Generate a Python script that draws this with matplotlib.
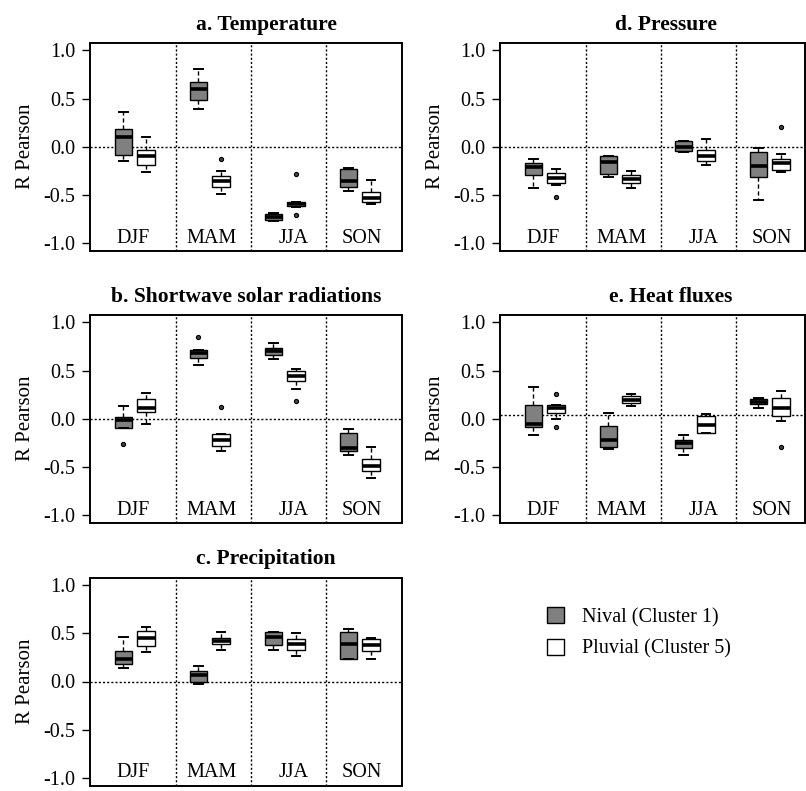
"""Seasonal correlation boxplots for the nival and pluvial clusters.

Five panels (temperature, shortwave, precipitation, pressure, heat fluxes),
each showing the spread of Pearson R per season for both clusters, drawn
from five-number summaries with ``Axes.bxp``.
"""

import matplotlib

matplotlib.use("Agg")
import matplotlib.pyplot as plt
from matplotlib.patches import Patch

SEASONS = ["DJF", "MAM", "JJA", "SON"]
SERIES = ["Nival (Cluster 1)", "Pluvial (Cluster 5)"]

# Per-season summaries: [whisker low, Q1, median, Q3, whisker high]
TEMP_NIVAL = [[-0.15, -0.09, 0.10, 0.18, 0.36], [0.39, 0.49, 0.60, 0.67, 0.81],
              [-0.77, -0.76, -0.73, -0.70, -0.69], [-0.455, -0.42, -0.36, -0.235, -0.225]]
TEMP_PLUVIAL = [[-0.26, -0.19, -0.10, -0.03, 0.10], [-0.49, -0.415, -0.36, -0.30, -0.25],
                [-0.63, -0.62, -0.595, -0.575, -0.57], [-0.60, -0.57, -0.535, -0.47, -0.345]]
TEMP_NIVAL_OUT = [[], [], [], []]
TEMP_PLUVIAL_OUT = [[], [-0.13], [-0.28, -0.71], []]

SW_NIVAL = [[-0.095, -0.095, -0.01, 0.02, 0.13], [0.56, 0.63, 0.68, 0.71, 0.71],
            [0.625, 0.66, 0.70, 0.73, 0.79], [-0.38, -0.34, -0.30, -0.15, -0.11]]
SW_PLUVIAL = [[-0.055, 0.065, 0.11, 0.20, 0.27], [-0.335, -0.28, -0.22, -0.16, -0.155],
              [0.31, 0.39, 0.44, 0.50, 0.52], [-0.62, -0.54, -0.49, -0.42, -0.29]]
SW_NIVAL_OUT = [[-0.26], [0.845], [], []]
SW_PLUVIAL_OUT = [[], [0.12], [0.18], []]

PRECIP_NIVAL = [[0.145, 0.185, 0.23, 0.315, 0.465], [-0.03, 0.0, 0.07, 0.105, 0.165],
                [0.33, 0.375, 0.46, 0.51, 0.51], [0.23, 0.23, 0.385, 0.515, 0.55]]
PRECIP_PLUVIAL = [[0.31, 0.37, 0.455, 0.52, 0.565], [0.33, 0.39, 0.425, 0.455, 0.515],
                  [0.27, 0.33, 0.385, 0.445, 0.50], [0.23, 0.315, 0.38, 0.44, 0.455]]
PRECIP_NIVAL_OUT = [[], [], [], []]
PRECIP_PLUVIAL_OUT = [[], [], [], []]

PRES_NIVAL = [[-0.425, -0.29, -0.21, -0.17, -0.13], [-0.31, -0.28, -0.155, -0.097, -0.097],
              [-0.05, -0.045, 0.0, 0.055, 0.06], [-0.55, -0.31, -0.20, -0.06, -0.01]]
PRES_PLUVIAL = [[-0.40, -0.375, -0.32, -0.275, -0.23], [-0.43, -0.375, -0.335, -0.29, -0.25],
                [-0.19, -0.15, -0.10, -0.03, 0.08], [-0.26, -0.24, -0.17, -0.13, -0.08]]
PRES_NIVAL_OUT = [[], [], [], []]
PRES_PLUVIAL_OUT = [[-0.52], [], [], [0.20]]

HEAT_NIVAL = [[-0.165, -0.09, -0.05, 0.14, 0.325], [-0.31, -0.29, -0.22, -0.076, 0.06],
              [-0.38, -0.30, -0.255, -0.22, -0.17], [0.115, 0.15, 0.175, 0.20, 0.22]]
HEAT_PLUVIAL = [[-0.005, 0.055, 0.115, 0.14, 0.14], [0.135, 0.16, 0.19, 0.235, 0.26],
                [-0.15, -0.145, -0.065, 0.03, 0.05], [-0.02, 0.03, 0.11, 0.22, 0.29]]
HEAT_NIVAL_OUT = [[], [], [], []]
HEAT_PLUVIAL_OUT = [[0.26, -0.085], [], [], [-0.29]]

NIVAL_COLOR = "#808080"
PLUVIAL_COLOR = "white"

# Layout in pixels of an 806x791 canvas: (left, top, width, height)
W, H = 806, 791
PANELS = [
    ("a. Temperature", 0.567, 0.0, (90, 42.7, 312, 208), TEMP_NIVAL, TEMP_PLUVIAL, TEMP_NIVAL_OUT, TEMP_PLUVIAL_OUT),
    ("b. Shortwave solar radiations", 0.50, 0.0, (90, 314.7, 312, 208), SW_NIVAL, SW_PLUVIAL, SW_NIVAL_OUT, SW_PLUVIAL_OUT),
    ("c. Precipitation", 0.564, 0.0, (90, 577.5, 312, 208), PRECIP_NIVAL, PRECIP_PLUVIAL, PRECIP_NIVAL_OUT, PRECIP_PLUVIAL_OUT),
    ("d. Pressure", 0.544, 0.0, (500, 42.7, 305, 208), PRES_NIVAL, PRES_PLUVIAL, PRES_NIVAL_OUT, PRES_PLUVIAL_OUT),
    ("e. Heat fluxes", 0.561, 0.035, (500, 314.7, 305, 208), HEAT_NIVAL, HEAT_PLUVIAL, HEAT_NIVAL_OUT, HEAT_PLUVIAL_OUT),
]

UNIT_PX = 37.5  # pixels per x unit; seasons two units apart
X0 = -0.293
NIVAL_POS = [0.6, 2.6, 4.6, 6.6]
PLUVIAL_POS = [1.2, 3.2, 5.2, 7.2]
LABEL_POS = [0.85, 2.95, 5.15, 6.95]
SEPARATORS = [2.0, 4.0, 6.0]
BOX_W = 0.46

plt.rcParams.update({
    "font.family": "serif",
    "font.serif": ["Liberation Serif", "DejaVu Serif"],
    "axes.unicode_minus": False,
    "axes.linewidth": 1.4,
})


def _stats(summary, outliers):
    out = []
    for (lo, q1, med, q3, hi), fl in zip(summary, outliers):
        out.append(dict(whislo=lo, q1=q1, med=med, q3=q3, whishi=hi, fliers=fl))
    return out


def _draw_boxes(ax, summary, outliers, positions, color):
    ax.bxp(
        _stats(summary, outliers),
        positions=positions,
        widths=BOX_W,
        capwidths=BOX_W / 2,
        patch_artist=True,
        boxprops=dict(facecolor=color, edgecolor="black", linewidth=1.0),
        medianprops=dict(color="black", linewidth=2.6, solid_capstyle="butt"),
        whiskerprops=dict(color="black", linewidth=1.0, linestyle=(0, (3, 2))),
        capprops=dict(color="black", linewidth=1.4),
        flierprops=dict(marker="o", markersize=3, markerfacecolor="#444444",
                        markeredgecolor="black", markeredgewidth=0.8),
        manage_ticks=False,
    )


fig = plt.figure(figsize=(W / 100, H / 100), dpi=100)

for title, title_x, zero_y, (left, top, width, height), niv, plu, niv_out, plu_out in PANELS:
    ax = fig.add_axes([left / W, 1 - (top + height) / H, width / W, height / H])
    ax.set_xlim(X0, X0 + width / UNIT_PX)
    ax.set_ylim(-1.08, 1.08)

    ax.axhline(zero_y, color="black", linestyle=(0, (1.5, 1.5)), linewidth=1.0, zorder=1)
    for sx in SEPARATORS:
        ax.axvline(sx, color="black", linestyle=(0, (1.5, 1.5)), linewidth=1.0, zorder=1)

    _draw_boxes(ax, niv, niv_out, NIVAL_POS, NIVAL_COLOR)
    _draw_boxes(ax, plu, plu_out, PLUVIAL_POS, PLUVIAL_COLOR)

    for lx, season in zip(LABEL_POS, SEASONS):
        ax.text(lx, -0.95, season, ha="center", va="center", fontsize=14.5)

    ax.set_xticks([])
    ax.set_yticks([-1.0, -0.5, 0.0, 0.5, 1.0])
    ax.set_yticklabels([f"{v:.1f}" for v in [-1.0, -0.5, 0.0, 0.5, 1.0]])
    ax.tick_params(axis="y", length=5.5, width=1.0, pad=5, labelsize=14.5)
    ax.set_ylabel("R Pearson", fontsize=15, labelpad=6)
    ax.annotate(title, xy=(title_x, 1), xycoords="axes fraction", xytext=(0, 13),
                textcoords="offset points", ha="center", va="center",
                fontsize=15.5, fontweight="bold")

handles = [
    Patch(facecolor=NIVAL_COLOR, edgecolor="black", linewidth=1.0, label=SERIES[0]),
    Patch(facecolor=PLUVIAL_COLOR, edgecolor="black", linewidth=1.0, label=SERIES[1]),
]
fig.legend(
    handles=handles,
    loc="upper left",
    bbox_to_anchor=(547 / W, 1 - 607 / H),
    frameon=False,
    fontsize=14.5,
    handlelength=0.85,
    handleheight=0.85,
    handletextpad=0.9,
    labelspacing=0.58,
    borderpad=0,
    borderaxespad=0,
)

fig.savefig("out.png", dpi=100)
